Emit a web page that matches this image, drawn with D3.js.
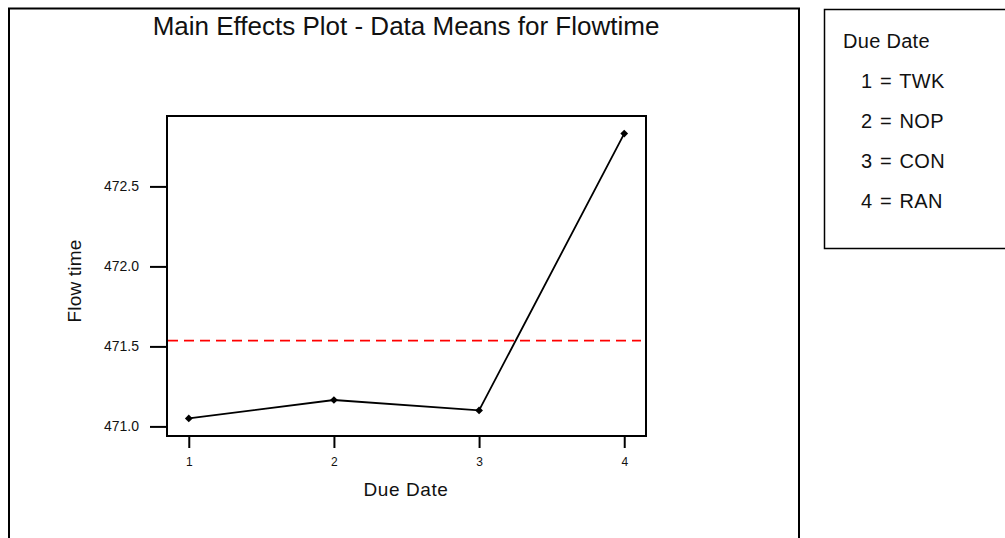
<!DOCTYPE html>
<html>
<head>
<meta charset="utf-8">
<script src="https://cdn.jsdelivr.net/npm/d3@7"></script>
<style>
	body { margin: 0; background: #fff; }
	text { font-family: "Liberation Sans", Arial, sans-serif; fill: #111; }
</style>
</head>
<body>
<script>
// data
var levels = [1, 2, 3, 4];
var levelNames = ["TWK", "NOP", "CON", "RAN"];
var flowMeans = [471.05, 471.165, 471.10, 472.83];
var yTicks = [471.0, 471.5, 472.0, 472.5];
var factorName = "Due Date";

var width = 1005,
		height = 538,
		boxLeft = 167,
		boxRight = 646,
		boxTop = 116,
		boxBottom = 436;

var svg = d3.select("body")
	.append("svg")
	.attr("width", width)
	.attr("height", height);

var x = d3.scaleLinear()
	.domain([0.85, 4.15])
	.range([boxLeft, boxRight]);

var y = d3.scaleLinear()
	.domain([470.94, 472.94])
	.range([boxBottom, boxTop]);

var points = levels.map(function (d, i) {
	return { level: d, value: flowMeans[i] };
});
var grandMean = d3.mean(flowMeans);

// outer frame (bottom is cut off)
svg.append("path")
	.attr("d", "M9,540 V8.5 H799 V540")
	.attr("fill", "none")
	.attr("stroke", "#000")
	.attr("stroke-width", 2);

// title
svg.append("text")
	.attr("x", 406)
	.attr("y", 35)
	.attr("text-anchor", "middle")
	.style("font-size", "26px")
	.text("Main Effects Plot - Data Means for Flowtime");

// y axis
var yAxis = d3.axisLeft(y)
	.tickValues(yTicks)
	.tickFormat(d3.format(".1f"))
	.tickSize(17)
	.tickPadding(11);

var gy = svg.append("g")
	.attr("transform", "translate(" + boxLeft + ",0)")
	.call(yAxis);
gy.select(".domain").remove();
gy.selectAll(".tick line").attr("stroke", "#000").attr("stroke-width", 2);
gy.selectAll(".tick text")
	.style("font-family", "Liberation Sans, Arial, sans-serif")
	.style("font-size", "14px")
	.attr("fill", "#222");

// x axis
var xAxis = d3.axisBottom(x)
	.tickValues(levels)
	.tickFormat(d3.format("d"))
	.tickSize(12)
	.tickPadding(9);

var gx = svg.append("g")
	.attr("transform", "translate(0," + boxBottom + ")")
	.call(xAxis);
gx.select(".domain").remove();
gx.selectAll(".tick line").attr("stroke", "#000").attr("stroke-width", 2);
gx.selectAll(".tick text")
	.style("font-family", "Liberation Sans, Arial, sans-serif")
	.style("font-size", "12px")
	.attr("fill", "#222");

// plot box
svg.append("rect")
	.attr("x", boxLeft)
	.attr("y", boxTop)
	.attr("width", boxRight - boxLeft)
	.attr("height", boxBottom - boxTop)
	.attr("fill", "none")
	.attr("stroke", "#000")
	.attr("stroke-width", 2);

// grand mean reference line
svg.append("line")
	.attr("x1", boxLeft + 1)
	.attr("x2", boxRight - 5)
	.attr("y1", y(grandMean))
	.attr("y2", y(grandMean))
	.attr("stroke", "#f00")
	.attr("stroke-width", 1.8)
	.attr("stroke-dasharray", "10,6");

// means line
var line = d3.line()
	.x(function (d) { return x(d.level); })
	.y(function (d) { return y(d.value); });

svg.append("path")
	.datum(points)
	.attr("d", line)
	.attr("fill", "none")
	.attr("stroke", "#000")
	.attr("stroke-width", 1.8);

svg.selectAll(".marker")
	.data(points)
	.enter()
	.append("path")
	.attr("class", "marker")
	.attr("d", d3.symbol().type(d3.symbolSquare).size(30))
	.attr("transform", function (d) {
		return "translate(" + x(d.level) + "," + y(d.value) + ") rotate(45)";
	})
	.attr("fill", "#000");

// axis titles
svg.append("text")
	.attr("x", 406)
	.attr("y", 496)
	.attr("text-anchor", "middle")
	.style("font-size", "19px")
	.style("letter-spacing", "0.6px")
	.text(factorName);

svg.append("text")
	.attr("transform", "translate(81,281) rotate(-90)")
	.attr("text-anchor", "middle")
	.style("font-size", "19px")
	.style("letter-spacing", "0.2px")
	.text("Flow time");

// legend box
svg.append("path")
	.attr("d", "M1010,9.5 H824.5 V248.5 H1010")
	.attr("fill", "none")
	.attr("stroke", "#000")
	.attr("stroke-width", 1.5);

svg.append("text")
	.attr("x", 843)
	.attr("y", 48)
	.style("font-size", "20px")
	.style("letter-spacing", "0.3px")
	.text(factorName);

svg.selectAll(".legendItem")
	.data(levels)
	.enter()
	.append("text")
	.attr("class", "legendItem")
	.attr("x", 861)
	.attr("y", function (d, i) { return 88 + i * 40; })
	.style("font-size", "20px")
	.style("letter-spacing", "0.4px")
	.style("word-spacing", "1.5px")
	.text(function (d, i) { return d + " = " + levelNames[i]; });
</script>
</body>
</html>
